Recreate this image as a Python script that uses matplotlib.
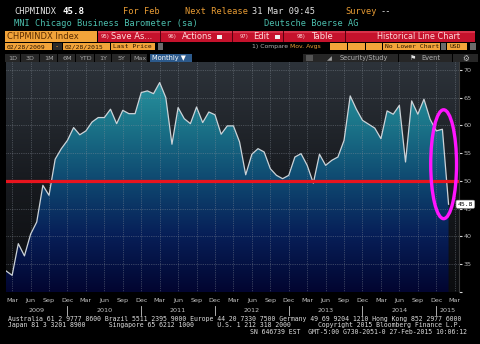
import numpy as np
import pandas as pd
import matplotlib
matplotlib.use("Agg")
import matplotlib.pyplot as plt
import matplotlib.transforms as mtransforms
from matplotlib.colors import LinearSegmentedColormap
from matplotlib.patches import Rectangle, Ellipse

# CHPMINDX monthly values, Feb 2009 - Feb 2015
values = [33.8, 33.0, 38.7, 36.5, 40.4, 42.6, 49.2, 47.4, 53.9, 55.8, 57.3,          # 2009
          59.6, 58.3, 59.0, 60.6, 61.4, 61.4, 62.9, 60.3, 62.7, 62.1, 62.1, 65.9,    # 2010
          66.2, 65.7, 67.7, 65.0, 56.6, 63.2, 61.2, 60.3, 63.3, 60.5, 62.4, 61.9,    # 2011
          58.4, 59.9, 59.9, 57.0, 51.1, 54.8, 55.8, 55.2, 52.2, 51.0, 50.4, 51.0,    # 2012
          54.3, 54.9, 52.8, 49.6, 54.8, 52.8, 53.7, 54.3, 57.3, 65.3, 62.9, 60.9,    # 2013
          60.2, 59.5, 57.6, 62.6, 62.0, 63.6, 53.4, 64.4, 62.0, 64.7, 61.1, 59.0,    # 2014
          59.3, 45.8]                                                                # 2015
start = "2009-02-01"
last_value = "45.8"
y_ticks = [30, 35, 40, 45, 50, 55, 60, 65, 70]
y_labels = ["", "35", "40", "45", "50", "55", "60", "65", "70"]
tick_months = [3, 6, 9, 12]
threshold = 50

W, H = 480, 344
MONO = "DejaVu Sans Mono"
ORANGE = "#e89c34"
TEAL = "#4cbfae"
WHITE = "#e4e4e4"

fig = plt.figure(figsize=(W / 100, H / 100), dpi=100, facecolor="black")


def rect(x0, y0, x1, y1, color, **kw):
    fig.add_artist(Rectangle((x0 / W, 1 - y1 / H), (x1 - x0) / W, (y1 - y0) / H,
                             transform=fig.transFigure, facecolor=color, lw=0, **kw))


def text(x, y, s, **kw):
    kw.setdefault("va", "center")
    fig.text(x / W, 1 - y / H, s, **kw)


# ---- header rows ----
text(14, 12, "CHPMINDX", color=WHITE, family=MONO, fontsize=6.2)
text(62, 12, "45.8", color="white", family=MONO, fontsize=6.6, weight="bold")
text(123, 12, "For Feb", color=ORANGE, family=MONO, fontsize=6.2)
text(185, 12, "Next Release", color=ORANGE, family=MONO, fontsize=6.2)
text(252, 12, "31 Mar 09:45", color=WHITE, family=MONO, fontsize=6.2)
text(345, 12, "Survey", color=ORANGE, family=MONO, fontsize=6.2)
text(381, 12, "--", color=WHITE, family=MONO, fontsize=6.2)
text(14, 24, "MNI Chicago Business Barometer (sa)", color=TEAL, family=MONO, fontsize=6.2)
text(264, 24, "Deutsche Boerse AG", color=TEAL, family=MONO, fontsize=6.2)

# toolbar
rect(5, 31, 97, 42, "#f2a43a")
text(7, 36.5, "CHPMINDX Index", color="#5a2c00", fontsize=6.0)
rect(98, 31, 475, 42, "#c5122c")
rect(98, 31, 475, 33, "#d8324a")
for sx in [160, 232, 283, 345]:
    rect(sx, 31, sx + 1, 42, "#5a0010")
red_txt = "#ffdcdc"
text(101, 36.8, "95)", color=red_txt, fontsize=3.8)
text(111, 36.5, "Save As...", color=red_txt, fontsize=6.0)
text(168, 36.8, "96)", color=red_txt, fontsize=3.8)
text(182, 36.5, "Actions", color=red_txt, fontsize=6.0)
rect(217, 35, 222, 39, "#f0f0f0")
text(240, 36.8, "97)", color=red_txt, fontsize=3.8)
text(253, 36.5, "Edit", color=red_txt, fontsize=6.0)
rect(275, 35, 280, 39, "#f0f0f0")
text(297, 36.8, "98)", color=red_txt, fontsize=3.8)
text(311, 36.5, "Table", color=red_txt, fontsize=6.0)
text(377, 36.5, "Historical Line Chart", color=red_txt, fontsize=5.9)

# date / options row
for x0, x1, s in [(5, 52, "02/28/2009"), (63, 110, "02/28/2015"), (111, 155, "Last Price"),
                  (330, 347, ""), (348, 365, ""), (366, 382, ""),
                  (383, 440, "No Lower Chart"), (447, 467, "USD")]:
    rect(x0, 43, x1, 50, "#f2a43a")
    text(x0 + 2, 46.6, s, color="#2a1400", family=MONO, fontsize=4.6)
rect(53, 43, 62, 50, "#2a2a2a")
text(55, 46.5, "-", color=ORANGE, family=MONO, fontsize=5)
for x0, x1 in [(158, 163), (441, 446), (470, 476)]:
    rect(x0, 43, x1, 50, "#6a6a6a")
text(252, 46.6, "1) Compare", color="#b4b4b4", fontsize=4.4)
text(290, 46.6, "Mov. Avgs", color=ORANGE, fontsize=4.4)

# range tabs row
tabs = [("1D", 5, 21), ("3D", 21, 40), ("1M", 40, 58), ("6M", 58, 76), ("YTD", 76, 95),
        ("1Y", 95, 112), ("5Y", 112, 131), ("Max", 131, 148)]
for s, x0, x1 in tabs:
    rect(x0, 54, x1 - 1, 62, "#262626")
    text((x0 + x1) / 2, 58.3, s, color="#a8a8a8", fontsize=4.6, ha="center")
rect(150, 54, 192, 62, "#2c5a8c")
text(152, 58.3, "Monthly \u25bc", color="white", fontsize=4.8)
rect(303, 54, 478, 62, "#262626")
rect(306, 55, 313, 61, "#555555")
text(327, 58.3, "\u25e2", color="#a0a0a0", fontsize=4.6)
text(340, 58.3, "Security/Study", color="#b0b0b0", fontsize=4.8)
rect(398, 54, 399, 62, "#000000")
text(410, 58.3, "\u2691", color="#e0e0e0", fontsize=5)
text(421, 58.3, "Event", color="#b0b0b0", fontsize=4.8)
rect(452, 54, 453, 62, "#000000")
text(462, 58.3, "\u2699", color="#c0c0c0", fontsize=5.5)

# ---- chart ----
ax = fig.add_axes([6 / W, 1 - 292 / H, (459 - 6) / W, (292 - 62) / H])
ax.set_facecolor("black")

dates = pd.date_range(start, periods=len(values) + 2, freq="MS")
x = np.arange(len(values))
x_max = len(values) + 0.7
y_min, y_max = 30, 71.4

bg_cmap = LinearSegmentedColormap.from_list("bg", ["#0b0c0e", "#181b20", "#2d333a"])
fill_cmap = LinearSegmentedColormap.from_list(
    "fill", ["#020530", "#071f58", "#0f4b72", "#1c788b", "#2f9ea9"])
grad = np.linspace(0, 1, 256).reshape(-1, 1)
ax.imshow(grad, extent=[0, x_max, y_min, y_max], origin="lower", aspect="auto",
          cmap=bg_cmap, zorder=0)
area = ax.fill_between(x, values, y_min, facecolor="none", edgecolor="none")
fill_img = ax.imshow(grad, extent=[0, x_max, y_min, y_max], origin="lower", aspect="auto",
                     cmap=fill_cmap, zorder=1)
fill_img.set_clip_path(area.get_paths()[0], transform=ax.transData)
ax.plot(x, values, color="#ccd3d8", lw=0.9, zorder=3)

ax.axhline(threshold, color="#e8141e", lw=2.3, zorder=4)

ax.add_patch(Ellipse((x[-1] - 0.8, 53.0), 4.2, 19.6, fill=False, edgecolor="#ff14ff",
                     lw=2.4, clip_on=False, zorder=6))

ax.set_xlim(0, x_max)
ax.set_ylim(y_min, y_max)

tick_idx = [i for i, d in enumerate(dates) if d.month in tick_months and i <= x_max]
ax.set_xticks(tick_idx)
ax.set_xticklabels([dates[i].strftime("%b") for i in tick_idx])
ax.tick_params(axis="x", length=0, pad=4, labelsize=4.6, labelcolor="#c4c4c4")
for lbl in ax.get_xticklabels():
    lbl.set_family("DejaVu Sans Condensed")

ax.yaxis.tick_right()
ax.set_yticks(y_ticks)
ax.set_yticklabels(y_labels)
ax.tick_params(axis="y", length=2, width=0.8, color="#d8d8d8", pad=1.5,
               labelsize=4.6, labelcolor="#b4b4b4")

ax.grid(True, color="#8a929c", lw=0.5, linestyle=(0, (1, 1.6)), alpha=0.75, zorder=2)
for gl in ax.get_xgridlines() + ax.get_ygridlines():
    gl.set_zorder(2)
for name, sp in ax.spines.items():
    sp.set_visible(name == "right")
ax.spines["right"].set_color("#3a3a3a")
ax.spines["right"].set_linewidth(0.8)

# last value tag
tag_tr = mtransforms.blended_transform_factory(ax.transAxes, ax.transData)
ax.text(0.997, float(last_value), last_value, transform=tag_tr, ha="left", va="center",
        fontsize=4.6, family=MONO, color="black", zorder=7, clip_on=False,
        bbox=dict(boxstyle="round,pad=0.25", fc="white", ec="#909090", lw=0.4))

# year labels with separators at December
yr_tr = mtransforms.blended_transform_factory(ax.transData, fig.transFigure)
dec_idx = [i for i, d in enumerate(dates) if d.month == 12]
bounds = [0] + dec_idx + [x_max]
for i in dec_idx:
    ax.plot([i, i], [1 - 306 / H, 1 - 315 / H], transform=yr_tr, color="#c8c8c8",
            lw=0.6, clip_on=False)
for a, b in zip(bounds[:-1], bounds[1:]):
    yr = dates[min(int(np.ceil(a + 0.5)), len(dates) - 1)].year
    ax.text((a + b) / 2, 1 - 310.5 / H, str(yr), transform=yr_tr, ha="center", va="center",
            fontsize=4.6, color="#c4c4c4", family="DejaVu Sans Condensed")

# ---- footer ----
foot = dict(color="#dcdcdc", family=MONO, fontsize=4.7)
text(8, 318.5, "Australia 61 2 9777 8600 Brazil 5511 2395 9000 Europe 44 20 7330 7500 "
               "Germany 49 69 9204 1210 Hong Kong 852 2977 6000", **foot)
text(8, 325.5, "Japan 81 3 3201 8900      Singapore 65 6212 1000      U.S. 1 212 318 2000"
               "       Copyright 2015 Bloomberg Finance L.P.", **foot)
text(467, 332.5, "SN 646739 EST  GMT-5:00 G730-2051-0 27-Feb-2015 10:06:12",
     ha="right", **foot)

fig.savefig("out.png", dpi=100, facecolor="black")
